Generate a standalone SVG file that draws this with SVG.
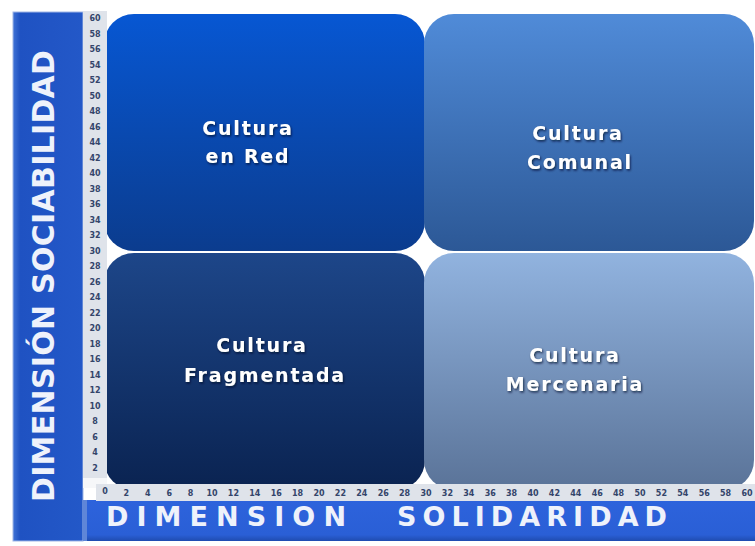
<svg xmlns="http://www.w3.org/2000/svg" width="755" height="546" viewBox="0 0 755 546">
  <defs>
    <linearGradient id="gTL" x1="0" y1="0" x2="0" y2="1">
      <stop offset="0" stop-color="#0757d3"/>
      <stop offset="1" stop-color="#0b3c8e"/>
    </linearGradient>
    <linearGradient id="gTR" x1="0" y1="0" x2="0" y2="1">
      <stop offset="0" stop-color="#508bd8"/>
      <stop offset="1" stop-color="#2c5896"/>
    </linearGradient>
    <linearGradient id="gBL" x1="0" y1="0" x2="0" y2="1">
      <stop offset="0" stop-color="#1d4689"/>
      <stop offset="1" stop-color="#0a2351"/>
    </linearGradient>
    <linearGradient id="gBR" x1="0" y1="0" x2="0" y2="1">
      <stop offset="0" stop-color="#91b3df"/>
      <stop offset="1" stop-color="#5a7398"/>
    </linearGradient>
    <linearGradient id="gLeft" x1="0" y1="0" x2="1" y2="0">
      <stop offset="0" stop-color="#3f72d6"/>
      <stop offset="0.1" stop-color="#1f52c2"/>
      <stop offset="1" stop-color="#2358c8"/>
    </linearGradient>
    <linearGradient id="gBottom" x1="0" y1="0" x2="0" y2="1">
      <stop offset="0" stop-color="#2d63dc"/>
      <stop offset="0.85" stop-color="#2a5fd6"/>
      <stop offset="1" stop-color="#1f4cb0"/>
    </linearGradient>
    <filter id="sh" x="-20%" y="-40%" width="140%" height="180%">
      <feDropShadow dx="1" dy="1.5" stdDeviation="1.2" flood-color="#000c2a" flood-opacity="0.75"/>
    </filter>
  </defs>
  <style>
    .lbl { font-family: "DejaVu Sans", "Open Sans", sans-serif; font-weight: 700; font-size: 19px; fill: #ffffff; text-anchor: middle; letter-spacing: 1.8px; }
    .axis { font-family: "DejaVu Sans", "Open Sans", sans-serif; font-weight: 700; fill: #eef2fb; }
    .rn { font-family: "DejaVu Sans", "Liberation Sans", sans-serif; font-weight: 700; font-size: 8px; fill: #34456a; text-anchor: middle; }
    .ruler { fill: #dfe3ea; }
  </style>
  <rect x="0" y="0" width="755" height="546" fill="#ffffff"/>

  <!-- axis bars -->
  <g id="axis-y">
    <rect x="13" y="12" width="70" height="529" fill="url(#gLeft)"/>
    <rect x="13" y="12" width="70" height="529" fill="none" stroke="#9fb6e6" stroke-width="1"/>
    <text class="axis" font-size="30" transform="translate(54,502) rotate(-90)" textLength="452" lengthAdjust="spacing">DIMENSIÓN SOCIABILIDAD</text>
  </g>
  <g id="axis-x">
    <rect x="83" y="500" width="672" height="41" fill="url(#gBottom)"/>
    <rect x="83" y="500" width="4" height="41" fill="#5f86d8"/>
    <text class="axis" font-size="27" x="106" y="526" textLength="240" lengthAdjust="spacing">DIMENSION</text>
    <text class="axis" font-size="27" x="397" y="526" textLength="270" lengthAdjust="spacing">SOLIDARIDAD</text>
  </g>

  <!-- quadrants -->
  <g id="q-red">
    <rect x="104" y="14" width="321" height="237" rx="30" fill="url(#gTL)"/>
    <text class="lbl" filter="url(#sh)" x="248" y="135">Cultura</text>
    <text class="lbl" filter="url(#sh)" x="248" y="163">en Red</text>
  </g>
  <g id="q-comunal">
    <rect x="424" y="14" width="330" height="237" rx="30" fill="url(#gTR)"/>
    <text class="lbl" filter="url(#sh)" x="578" y="140">Cultura</text>
    <text class="lbl" filter="url(#sh)" x="580" y="169">Comunal</text>
  </g>
  <g id="q-fragmentada">
    <rect x="104" y="253" width="321" height="237" rx="30" fill="url(#gBL)"/>
    <text class="lbl" filter="url(#sh)" x="262" y="352">Cultura</text>
    <text class="lbl" filter="url(#sh)" x="265" y="382">Fragmentada</text>
  </g>
  <g id="q-mercenaria">
    <rect x="424" y="253" width="330" height="237" rx="30" fill="url(#gBR)"/>
    <text class="lbl" filter="url(#sh)" x="575" y="362">Cultura</text>
    <text class="lbl" filter="url(#sh)" x="575" y="391">Mercenaria</text>
  </g>

  <!-- rulers -->
  <g id="ruler-y">
    <rect class="ruler" x="83" y="11" width="24" height="474"/>
    <text class="rn" x="95" y="21">60</text>
    <text class="rn" x="95" y="36.5">58</text>
    <text class="rn" x="95" y="52">56</text>
    <text class="rn" x="95" y="67.5">54</text>
    <text class="rn" x="95" y="83">52</text>
    <text class="rn" x="95" y="98.5">50</text>
    <text class="rn" x="95" y="114">48</text>
    <text class="rn" x="95" y="129.5">46</text>
    <text class="rn" x="95" y="145">44</text>
    <text class="rn" x="95" y="160.5">42</text>
    <text class="rn" x="95" y="176">40</text>
    <text class="rn" x="95" y="191.5">38</text>
    <text class="rn" x="95" y="207">36</text>
    <text class="rn" x="95" y="222.5">34</text>
    <text class="rn" x="95" y="238">32</text>
    <text class="rn" x="95" y="253.5">30</text>
    <text class="rn" x="95" y="269">28</text>
    <text class="rn" x="95" y="284.5">26</text>
    <text class="rn" x="95" y="300">24</text>
    <text class="rn" x="95" y="315.5">22</text>
    <text class="rn" x="95" y="331">20</text>
    <text class="rn" x="95" y="346.5">18</text>
    <text class="rn" x="95" y="362">16</text>
    <text class="rn" x="95" y="377.5">14</text>
    <text class="rn" x="95" y="393">12</text>
    <text class="rn" x="95" y="408.5">10</text>
    <text class="rn" x="95" y="424">8</text>
    <text class="rn" x="95" y="439.5">6</text>
    <text class="rn" x="95" y="455">4</text>
    <text class="rn" x="95" y="470.5">2</text>
  </g>
  <g id="ruler-x">
    <rect x="83" y="478" width="24" height="10" fill="#f6f7f9"/>
    <rect class="ruler" x="96" y="484" width="659" height="17"/>
    <text class="rn" x="105" y="494">0</text>
    <text class="rn" x="126.4" y="496">2</text>
    <text class="rn" x="147.8" y="496">4</text>
    <text class="rn" x="169.2" y="496">6</text>
    <text class="rn" x="190.6" y="496">8</text>
    <text class="rn" x="212" y="496">10</text>
    <text class="rn" x="233.4" y="496">12</text>
    <text class="rn" x="254.8" y="496">14</text>
    <text class="rn" x="276.2" y="496">16</text>
    <text class="rn" x="297.6" y="496">18</text>
    <text class="rn" x="319" y="496">20</text>
    <text class="rn" x="340.4" y="496">22</text>
    <text class="rn" x="361.8" y="496">24</text>
    <text class="rn" x="383.2" y="496">26</text>
    <text class="rn" x="404.6" y="496">28</text>
    <text class="rn" x="426" y="496">30</text>
    <text class="rn" x="447.4" y="496">32</text>
    <text class="rn" x="468.8" y="496">34</text>
    <text class="rn" x="490.2" y="496">36</text>
    <text class="rn" x="511.6" y="496">38</text>
    <text class="rn" x="533" y="496">40</text>
    <text class="rn" x="554.4" y="496">42</text>
    <text class="rn" x="575.8" y="496">44</text>
    <text class="rn" x="597.2" y="496">46</text>
    <text class="rn" x="618.6" y="496">48</text>
    <text class="rn" x="640" y="496">50</text>
    <text class="rn" x="661.4" y="496">52</text>
    <text class="rn" x="682.8" y="496">54</text>
    <text class="rn" x="704.2" y="496">56</text>
    <text class="rn" x="725.6" y="496">58</text>
    <text class="rn" x="747" y="496">60</text>
  </g>
</svg>
